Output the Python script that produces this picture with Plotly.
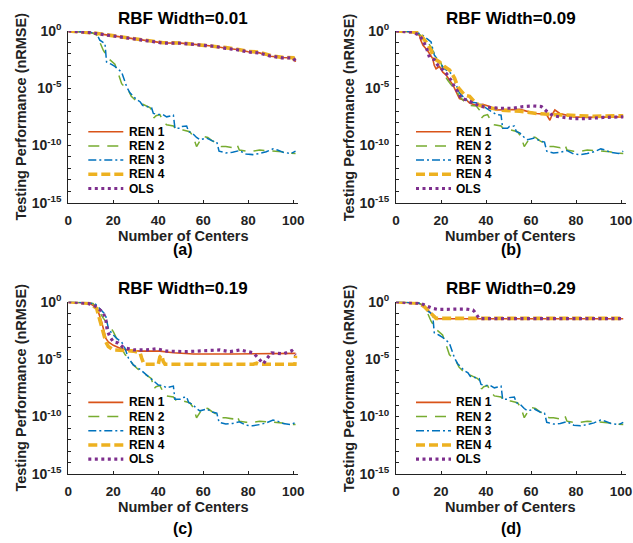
import plotly.graph_objects as go
import numpy as np

W, H = 633, 543

# ---------------- data (x = number of centers, y = log10(nRMSE)) ----------------
# shared tails of REN 2 / REN 3 (identical in all four panels)
ren2_tail_x = [38, 39, 40.7, 42, 43.7, 46.7, 48, 51, 54, 55.5, 57, 58.5, 60, 62, 64, 66, 68, 70, 73, 75, 76, 79, 82, 85, 88, 92, 95, 97, 101]
ren2_tail_y = [-7.6, -7.4, -7.3, -7.8, -8.2, -8.3, -8.6, -8.65, -8.8, -9.2, -10.1, -9.6, -9.2, -9.3, -9.6, -9.8, -10.1, -10.1, -10.2, -9.9, -10.4, -10.5, -10.5, -10.4, -10.45, -10.5, -10.55, -10.65, -10.7]
ren3_tail_x = [47.4, 49.6, 50.4, 52.6, 53.5, 55, 57, 58.5, 61.5, 64, 66, 67, 70, 73, 76, 79, 82, 85, 88, 91, 93, 95.5, 99, 101]
ren3_tail_y = [-8.5, -8.5, -8.35, -8.3, -8.8, -8.9, -9.3, -9.5, -9.35, -9.6, -9.7, -10.5, -10.65, -10.6, -10.45, -10.75, -10.8, -10.7, -10.55, -10.3, -10.4, -10.6, -10.7, -10.5]

# panel (a) RBF width 0.01
a_top_x = [0, 5, 10, 13, 20, 30, 40, 42, 50, 60, 65, 70, 75, 80, 85, 90, 95, 100, 101]
a_ren1_y = [0, -0.05, -0.15, -0.23, -0.43, -0.67, -0.96, -1.04, -1.06, -1.25, -1.33, -1.5, -1.62, -1.82, -1.91, -2.2, -2.32, -2.35, -2.7]
a_ren4_y = [0, -0.05, -0.15, -0.22, -0.42, -0.66, -0.92, -1.02, -1.05, -1.22, -1.3, -1.45, -1.6, -1.78, -1.85, -2.15, -2.3, -2.33, -2.75]
a_ols_y = [0, -0.05, -0.15, -0.24, -0.44, -0.68, -0.97, -1.05, -1.07, -1.26, -1.34, -1.52, -1.64, -1.83, -1.93, -2.2, -2.34, -2.36, -2.65]
a_ren2_x = [0, 5, 10, 12.6, 14, 15.6, 17.8, 19.3, 20.7, 22, 23.7, 25.2, 26.7, 28, 29.6, 32, 34, 36.3, 37.5]
a_ren2_y = [0, -0.05, -0.12, -0.35, -0.96, -1.7, -2.4, -2.7, -2.9, -3.6, -4.6, -4.9, -5.2, -5.7, -6.0, -6.3, -6.5, -6.7, -7.0]
a_ren3_x = [0, 5, 10, 12.6, 14, 16.3, 17, 19, 20.7, 23.7, 24.4, 26, 27.4, 29, 30.4, 32, 33, 35, 37, 37.8, 40, 42, 43.7, 46.7]
a_ren3_y = [0, -0.05, -0.12, -0.25, -0.8, -1.1, -2.7, -2.9, -3.1, -3.6, -4.0, -4.9, -5.4, -5.7, -6.0, -6.2, -6.5, -6.6, -6.7, -7.2, -7.3, -7.3, -7.5, -7.35]

# panel (b) RBF width 0.09
b_ren1_x = [0, 7.4, 10.4, 11, 12, 14, 16.3, 17, 17.8, 19.3, 20.8, 22.3, 23.8, 25.3, 26.7, 28.2, 29.7, 31.2, 32.7, 35.7, 38.6, 41.6, 44.6, 49, 55, 58, 62.4, 66.9, 68.4, 69.4, 70.6, 72.8, 78.8, 84.7, 92, 101]
b_ren1_y = [0, -0.09, -0.38, -0.8, -1.25, -1.7, -2.4, -3.0, -3.3, -3.1, -3.6, -3.85, -4.3, -4.7, -5.3, -5.9, -6.0, -6.0, -6.3, -6.5, -6.4, -6.6, -6.9, -6.9, -6.85, -7.0, -7.2, -7.3, -7.8, -7.3, -6.9, -7.2, -7.5, -7.55, -7.5, -7.5]
b_ren2_x = [0, 9, 11.9, 13.4, 15.6, 17.8, 20, 21.5, 23, 24.5, 26.7, 28.2, 30.5, 32.7, 35.7, 37.1]
b_ren2_y = [0, -0.1, -0.52, -0.8, -1.4, -2.3, -2.8, -3.85, -4.3, -4.7, -5.15, -5.7, -6.2, -6.5, -6.55, -6.9]
b_ren3_x = [0, 9, 11.9, 14, 15.6, 17, 19.3, 21.5, 23.8, 25.3, 26.7, 28.2, 30.5, 32.7, 36.4, 38.6, 40.1, 42.3, 44.6, 46.7]
b_ren3_y = [0, -0.1, -0.38, -0.67, -0.96, -2.1, -2.7, -3.3, -3.6, -3.85, -4.7, -5.4, -5.9, -6.2, -6.3, -6.5, -6.75, -7.0, -7.3, -7.35]
b_ren4_x = [0, 9, 11, 13.4, 15.6, 17, 19.3, 21.5, 23.8, 26, 27.5, 29, 30.5, 32.7, 34.9, 37.1, 40.1, 46, 55, 62.4, 69.8, 78.8, 87.7, 101]
b_ren4_y = [0, -0.1, -0.38, -0.96, -1.68, -2.4, -2.7, -3.1, -3.4, -4.1, -4.9, -5.3, -5.6, -5.7, -6.2, -6.5, -6.65, -6.9, -7.0, -7.2, -7.3, -7.4, -7.45, -7.4]
b_ols_x = [0, 7.4, 10.4, 11.9, 13.4, 14.9, 17, 18.6, 20.8, 22.3, 24.5, 26, 27.5, 29, 31.2, 34.2, 37.1, 40.1, 46, 52, 56.5, 61, 64.6, 66.9, 69.8, 72.8, 78.8, 84.7, 92, 101]
b_ols_y = [0, -0.09, -0.38, -0.8, -1.4, -2.3, -2.5, -3.0, -3.4, -3.7, -4.3, -4.9, -5.3, -5.9, -6.0, -6.3, -6.55, -6.65, -6.75, -6.75, -6.6, -6.55, -6.6, -7.0, -7.4, -7.5, -7.65, -7.65, -7.55, -7.5]

# panel (c) RBF width 0.19
c_ren1_x = [0, 9.6, 11.9, 13.3, 14.8, 15.9, 16.7, 17.8, 20, 23, 26, 31.9, 40.7, 46.7, 55.6, 73, 88, 101]
c_ren1_y = [0, -0.15, -0.44, -0.87, -1.74, -2.6, -3.2, -3.5, -3.8, -4.06, -4.2, -4.3, -4.3, -4.45, -4.55, -4.55, -4.55, -4.5]
c_ren2_x = [0, 9, 11, 13.3, 15.6, 17.8, 20, 21.5, 23.7, 25.2, 26.7, 28.9, 31.1, 33.3, 35.6, 37]
c_ren2_y = [0, -0.1, -0.15, -0.73, -1.45, -2.0, -2.6, -3.2, -4.06, -4.6, -4.9, -5.5, -5.9, -6.2, -6.5, -6.7]
c_ren3_x = [0, 9, 12, 14, 15.9, 16.7, 17.8, 19.3, 21.5, 23.7, 25.2, 26.7, 28.9, 31.9, 34.8, 37, 40, 42, 43.7, 46.7]
c_ren3_y = [0, -0.1, -0.2, -0.58, -1.0, -1.3, -2.3, -2.75, -3.2, -3.5, -4.06, -4.9, -5.5, -5.9, -6.4, -6.7, -7.25, -7.3, -7.5, -7.35]
c_ren4_x = [0, 9.6, 12.6, 13.6, 14, 15.6, 16.7, 17.8, 20, 28.9, 31.9, 32.6, 33.6, 40, 40.7, 41.5, 42.2, 43, 82.2, 83.7, 85, 100.7, 101]
c_ren4_y = [0, -0.15, -0.58, -1.3, -1.6, -2.75, -3.5, -3.9, -4.2, -4.3, -4.45, -4.9, -5.45, -5.45, -4.8, -4.65, -5.2, -5.45, -5.45, -5.35, -5.45, -5.45, -4.7]
c_ols_x = [0, 8.9, 12.6, 14, 15.6, 16.7, 17.3, 18.5, 20, 22.2, 24.4, 28.9, 34.8, 39.3, 43.7, 52.6, 61.5, 67.4, 71.9, 76.3, 82.2, 84.4, 86.7, 88.9, 90.4, 95.6, 99.3, 101]
c_ols_y = [0, -0.15, -0.44, -0.73, -1.0, -1.6, -2.5, -3.05, -3.5, -3.6, -3.97, -4.2, -4.2, -4.1, -4.3, -4.35, -4.3, -4.2, -4.35, -4.2, -4.45, -4.9, -5.4, -4.8, -4.45, -4.55, -4.27, -4.65]

# panel (d) RBF width 0.29
d_ren1_x = [0, 7.4, 10.4, 12.6, 14.9, 17, 17.8, 101]
d_ren1_y = [0, -0.06, -0.15, -0.38, -0.87, -1.3, -1.48, -1.48]
d_ren4_x = [0, 7.4, 10.4, 12.6, 14.1, 15.6, 17, 17.8, 101]
d_ren4_y = [0, -0.06, -0.15, -0.44, -0.73, -0.93, -1.25, -1.45, -1.45]
d_ols_x = [0, 7.4, 11, 13.4, 16.3, 18.6, 31.2, 34.2, 34.9, 36.4, 37.1, 101]
d_ols_y = [0, -0.06, -0.15, -0.35, -0.58, -0.67, -0.64, -0.73, -0.87, -1.3, -1.48, -1.48]

titles = ["RBF Width=0.01", "RBF Width=0.09", "RBF Width=0.19", "RBF Width=0.29"]
panel_labels = ["(a)", "(b)", "(c)", "(d)"]
series_names = ["REN 1", "REN 2", "REN 3", "REN 4", "OLS"]
x_ticks = [0, 20, 40, 60, 80, 100]
y_major_exps = [0, -5, -10, -15]
y_major_text = ["10<sup>0</sup>", "10<sup>-5</sup>", "10<sup>-10</sup>", "10<sup>-15</sup>"]
y_minor_exps = [-1, -2, -3, -4, -6, -7, -8, -9, -11, -12, -13, -14]

panels = [
    [(a_top_x, a_ren1_y), (a_ren2_x + ren2_tail_x, a_ren2_y + ren2_tail_y), (a_ren3_x + ren3_tail_x, a_ren3_y + ren3_tail_y), (a_top_x, a_ren4_y), (a_top_x, a_ols_y)],
    [(b_ren1_x, b_ren1_y), (b_ren2_x + ren2_tail_x, b_ren2_y + ren2_tail_y), (b_ren3_x + ren3_tail_x, b_ren3_y + ren3_tail_y), (b_ren4_x, b_ren4_y), (b_ols_x, b_ols_y)],
    [(c_ren1_x, c_ren1_y), (c_ren2_x + ren2_tail_x, c_ren2_y + ren2_tail_y), (c_ren3_x + ren3_tail_x, c_ren3_y + ren3_tail_y), (c_ren4_x, c_ren4_y), (c_ols_x, c_ols_y)],
    [(d_ren1_x, d_ren1_y), (a_ren2_x + ren2_tail_x, a_ren2_y + ren2_tail_y), (a_ren3_x + ren3_tail_x, a_ren3_y + ren3_tail_y), (d_ren4_x, d_ren4_y), (d_ols_x, d_ols_y)],
]

# ---------------- styles ----------------
colors = ["#D95319", "#77AC30", "#0072BD", "#EDB120", "#7E2F8E"]
widths = [1.6, 1.5, 1.5, 3.6, 3.2]
dashes = ["solid", "11px,8px", "8px,3px,2px,3px", "9px,4px", "3px,3.5px"]
FONT = "Liberation Sans, Arial, sans-serif"
INK = "#222222"

# pixel boxes of the four plot areas: (left, right, top, bottom)
boxes = [(68.3, 297.8, 31.0, 202.7), (396.0, 625.5, 31.0, 202.7),
         (68.3, 297.8, 301.7, 474.0), (396.0, 625.5, 301.7, 474.0)]


def fx(p):
    return p / W


def fy(p):
    return 1 - p / H


fig = go.Figure()
layout = dict(width=W, height=H, margin=dict(l=0, r=0, t=0, b=0),
              paper_bgcolor="white", plot_bgcolor="white", showlegend=False)
annotations = []
shapes = []

for i, (series, box) in enumerate(zip(panels, boxes)):
    xa = "x" if i == 0 else f"x{i+1}"
    ya = "y" if i == 0 else f"y{i+1}"
    for k, (xs, ys) in enumerate(series):
        fig.add_trace(go.Scatter(
            x=xs, y=10.0 ** np.array(ys), mode="lines", name=series_names[k],
            line=dict(color=colors[k], width=widths[k], dash=dashes[k]),
            xaxis=xa, yaxis=ya, showlegend=False))
    L, R, T, B = box
    axis_common = dict(showline=True, linecolor=INK, linewidth=1, ticks="inside",
                       ticklen=3, tickwidth=1, tickcolor=INK, showgrid=False,
                       zeroline=False, automargin=False)
    layout["xaxis" if i == 0 else f"xaxis{i+1}"] = dict(
        domain=[fx(L), fx(R)], range=[0, 102], tickvals=x_ticks,
        tickfont=dict(family=FONT, size=13.5, color=INK, weight="bold"),
        anchor=ya, ticklabelstandoff=5, **axis_common)
    layout["yaxis" if i == 0 else f"yaxis{i+1}"] = dict(
        domain=[fy(B), fy(T)], type="log", range=[-15, 0],
        tickvals=[10.0 ** e for e in y_major_exps], ticktext=y_major_text,
        tickfont=dict(family=FONT, size=14, color=INK, weight="bold"),
        minor=dict(tickmode="array", tickvals=[10.0 ** e for e in y_minor_exps],
                   ticks="inside", ticklen=3, tickwidth=1, tickcolor=INK, showgrid=False),
        anchor=xa, ticklabelstandoff=3, **axis_common)

    cx = (L + R) / 2
    annotations.append(dict(text=titles[i], x=fx(cx), y=fy(T - 13), xref="paper", yref="paper",
                            showarrow=False, xanchor="center", yanchor="middle",
                            font=dict(family=FONT, size=17, color="black", weight="bold")))
    annotations.append(dict(text="Number of Centers", x=fx(cx), y=fy(B + 33), xref="paper", yref="paper",
                            showarrow=False, xanchor="center", yanchor="middle",
                            font=dict(family=FONT, size=14.5, color=INK, weight="bold")))
    annotations.append(dict(text="Testing Performance (nRMSE)", x=fx(L - 47.6), y=fy((T + B) / 2),
                            xref="paper", yref="paper", textangle=-90,
                            showarrow=False, xanchor="center", yanchor="middle",
                            font=dict(family=FONT, size=14.5, color=INK, weight="bold")))
    annotations.append(dict(text=panel_labels[i], x=fx(cx), y=fy(B + 47 + (7 if i >= 2 else 0)),
                            xref="paper", yref="paper",
                            showarrow=False, xanchor="center", yanchor="middle",
                            font=dict(family=FONT, size=16, color="black", weight="bold")))
    # in-plot legend
    for k in range(5):
        ry = T + 100.7 + 14.2 * k
        shapes.append(dict(type="line", xref="paper", yref="paper",
                           x0=fx(L + 20), x1=fx(L + 55), y0=fy(ry), y1=fy(ry),
                           line=dict(color=colors[k], width=widths[k], dash=dashes[k])))
        annotations.append(dict(text=series_names[k], x=fx(L + 58.4), y=fy(ry), xref="paper", yref="paper",
                                showarrow=False, xanchor="left", yanchor="middle",
                                font=dict(family=FONT, size=12, color="black", weight="bold")))

layout["annotations"] = annotations
layout["shapes"] = shapes
fig.update_layout(**layout)
fig.write_html("out.html", config={"displayModeBar": False},
               post_script="document.body.style.margin='0px';")
